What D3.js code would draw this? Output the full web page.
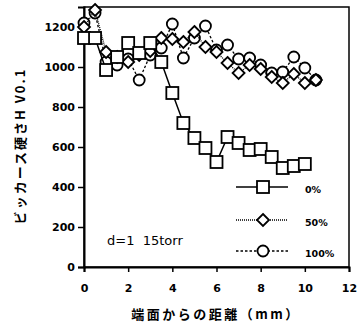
<!DOCTYPE html>
<html>
<head>
<meta charset="utf-8">
<script src="https://cdn.jsdelivr.net/npm/d3@7"></script>
<style>
  body { margin: 0; background: #fff; }
  svg { display: block; }
  text { font-family: "DejaVu Sans", sans-serif; fill: #000; }
  .jp { font-family: "Noto Sans CJK JP", sans-serif; }
</style>
</head>
<body>
<svg id="chart"></svg>
<script>
// distance from edge (mm)
const xs = [0, 0.5, 1, 1.5, 2, 2.5, 3, 3.5, 4, 4.5, 5, 5.5, 6, 6.5, 7, 7.5, 8, 8.5, 9, 9.5, 10, 10.5];

// hardness values per series
const hv0 = [1145, 1145, 985, 1050, 1120, 1070, 1120, 1025, 870, 720, 645, 595, 525, 650, 620, 585, 590, 550, 495, 505, 515];
const hv50 = [1200, 1285, 1075, 1050, 1025, 1060, 1080, 1145, 1140, 1125, 1175, 1100, 1075, 1020, 970, 1010, 990, 950, 920, 965, 920, 935];
const hv100 = [1220, 1270, 1025, 1010, 1040, 935, 1060, 1095, 1215, 1045, 1145, 1205, 1085, 1110, 1040, 1045, 1010, 970, 975, 1050, 995, 935];

const xTicks = [0, 2, 4, 6, 8, 10, 12];
const yTicks = [0, 200, 400, 600, 800, 1000, 1200];
const seriesNames = ["0%", "50%", "100%"];

const W = 363, H = 332;
const svg = d3.select("#chart").attr("width", W).attr("height", H);

const x = d3.scaleLinear().domain([0, 12]).range([84, 349]);
const y = d3.scaleLinear().domain([0, 1300]).range([267, 7]);

// frame
svg.append("rect")
    .attr("x", x(0)).attr("y", y(1300))
    .attr("width", x(12) - x(0)).attr("height", y(0) - y(1300))
    .attr("fill", "none").attr("stroke", "#000").attr("stroke-width", 1.5);

// axes
const xAxis = svg.append("g")
    .attr("transform", `translate(0,${y(0)})`)
    .call(d3.axisBottom(x).tickValues(xTicks).tickFormat(d3.format("d")).tickSize(5).tickPadding(12));
const yAxis = svg.append("g")
    .attr("transform", `translate(${x(0)},0)`)
    .call(d3.axisLeft(y).tickValues(yTicks).tickFormat(d3.format("d")).tickSize(6).tickPadding(3));

[xAxis, yAxis].forEach(g => {
    g.select(".domain").attr("stroke-width", 2);
    g.selectAll(".tick line").attr("stroke-width", 1.5);
    g.selectAll(".tick text")
        .style("font-size", "11px")
        .style("font-weight", "bold")
        .style("font-family", "DejaVu Sans, sans-serif");
});

// series definitions
const series = [
    { name: seriesNames[0], vals: hv0, dash: null, shape: "square" },
    { name: seriesNames[1], vals: hv50, dash: "1,1", shape: "diamond" },
    { name: seriesNames[2], vals: hv100, dash: "2.5,2", shape: "circle" }
];

function drawMarker(g, shape, cx, cy) {
    if (shape === "square") {
        g.append("rect").attr("x", cx - 6).attr("y", cy - 6)
            .attr("width", 12).attr("height", 12)
            .attr("fill", "#fff").attr("stroke", "#000").attr("stroke-width", 1.8);
    } else if (shape === "diamond") {
        g.append("path")
            .attr("d", `M${cx},${cy - 6}L${cx + 6},${cy}L${cx},${cy + 6}L${cx - 6},${cy}Z`)
            .attr("fill", "#fff").attr("stroke", "#000").attr("stroke-width", 1.8);
    } else {
        g.append("circle").attr("cx", cx).attr("cy", cy).attr("r", 5.5)
            .attr("fill", "#fff").attr("stroke", "#000").attr("stroke-width", 1.8);
    }
}

const line = d3.line().x(d => x(d[0])).y(d => y(d[1]));

// draw back to front: 100%, 50%, 0%
series.slice().reverse().forEach(s => {
    const pts = s.vals.map((v, i) => [xs[i], v]);
    svg.append("path")
        .attr("d", line(pts))
        .attr("fill", "none").attr("stroke", "#000")
        .attr("stroke-width", s.dash ? 1.3 : 1.5)
        .attr("stroke-dasharray", s.dash);
    const g = svg.append("g");
    pts.forEach(p => drawMarker(g, s.shape, x(p[0]), y(p[1])));
});

// legend
const legY = [187, 220, 251];
series.forEach((s, i) => {
    svg.append("line")
        .attr("x1", 236).attr("x2", 288)
        .attr("y1", legY[i]).attr("y2", legY[i])
        .attr("stroke", "#000").attr("stroke-width", s.dash ? 1.3 : 1.5)
        .attr("stroke-dasharray", s.dash);
    drawMarker(svg.append("g"), s.shape, 263, legY[i]);
    svg.append("text")
        .attr("x", 305).attr("y", legY[i] + 6)
        .style("font-size", "9.5px").style("font-weight", "bold")
        .text(s.name);
});

// annotation
svg.append("text")
    .attr("x", 107).attr("y", 245)
    .style("font-size", "13px")
    .text("d=1\u00a0\u00a015torr");

// axis titles
svg.append("text")
    .attr("class", "jp")
    .attr("x", 216).attr("y", 319)
    .attr("text-anchor", "middle")
    .style("font-size", "13px").style("font-weight", "bold")
    .style("letter-spacing", "2.5px")
    .text("端面からの距離（mm）");

svg.append("text")
    .attr("class", "jp")
    .attr("transform", "translate(25,146) rotate(-90)")
    .attr("text-anchor", "middle")
    .style("font-size", "13px").style("font-weight", "bold")
    .style("letter-spacing", "2px")
    .text("ビッカース硬さH V0.1");
</script>
</body>
</html>
